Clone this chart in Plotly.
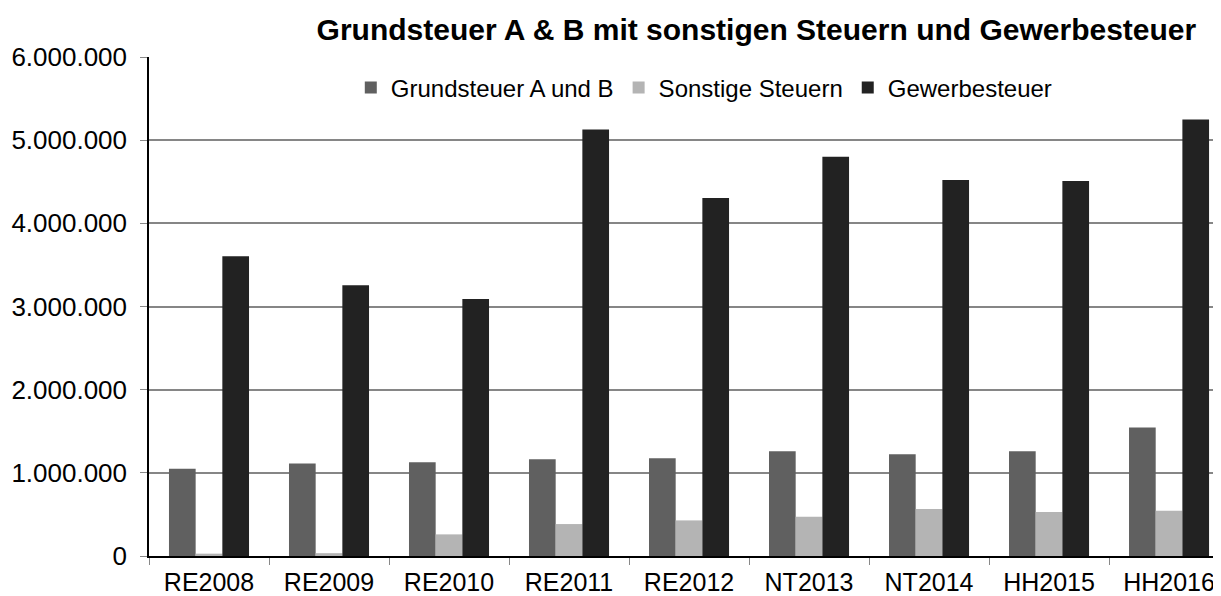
import plotly.graph_objects as go

categories = ["RE2008", "RE2009", "RE2010", "RE2011", "RE2012",
              "NT2013", "NT2014", "HH2015", "HH2016"]
grundsteuer = [1048000, 1112000, 1128000, 1164000, 1176000,
               1260000, 1224000, 1260000, 1545000]
sonstige = [28000, 34000, 260000, 384000, 428000,
            472000, 564000, 528000, 544000]
gewerbe = [3605000, 3255000, 3090000, 5128000, 4304000,
           4800000, 4520000, 4508000, 5248000]

FONT = "Liberation Sans, Arial, sans-serif"

fig = go.Figure()
fig.add_trace(go.Bar(x=categories, y=grundsteuer, name="Grundsteuer A und B",
                     marker=dict(color="#606060", line=dict(width=0))))
fig.add_trace(go.Bar(x=categories, y=sonstige, name="Sonstige Steuern",
                     marker=dict(color="#b4b4b4", line=dict(width=0))))
fig.add_trace(go.Bar(x=categories, y=gewerbe, name="Gewerbesteuer",
                     marker=dict(color="#222222", line=dict(width=0))))

# the page body keeps its default 8px margin, so the figure is 8px smaller
fig.update_layout(
    width=1213, height=588,
    margin=dict(l=141, r=0, t=49, b=40),
    paper_bgcolor="white", plot_bgcolor="white",
    separators=",.",
    barmode="group", bargap=0.333, bargroupgap=0,
    font=dict(family=FONT, color="black"),
    title=dict(text="<b>Grundsteuer A & B mit sonstigen Steuern und Gewerbesteuer</b>",
               font=dict(size=30, family=FONT, color="black"),
               xref="container", x=0.617, xanchor="center",
               yref="container", y=0.963, yanchor="middle"),
    legend=dict(orientation="h", x=0.518, xanchor="center", y=0.938, yanchor="middle",
                font=dict(size=24), bgcolor="rgba(0,0,0,0)", itemwidth=30),
    showlegend=True,
)

fig.update_xaxes(
    range=[-0.5, 8.433], showgrid=False,
    showline=True, linecolor="black", linewidth=1.5,
    ticks="outside", tickson="boundaries", ticklen=7, tickcolor="#888888",
    tickfont=dict(size=25), ticklabelstandoff=3,
)
fig.update_yaxes(
    range=[0, 6000000], dtick=1000000, tickformat=",d",
    showgrid=True, gridcolor="#868686", gridwidth=1.5,
    showline=True, linecolor="black", linewidth=1.5,
    ticks="outside", ticklen=7, tickcolor="#888888",
    tickfont=dict(size=26), ticklabelstandoff=8,
    zeroline=False,
)

fig.write_html("out.html")
